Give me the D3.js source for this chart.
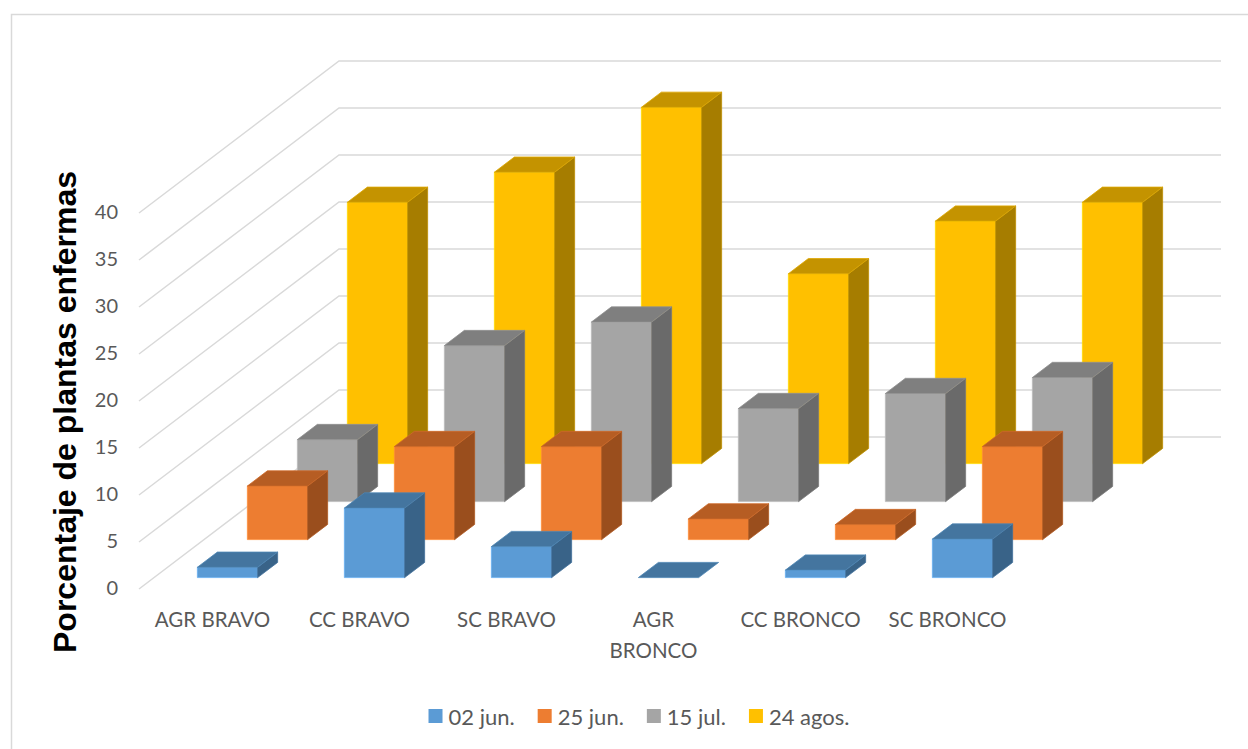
<!DOCTYPE html>
<html>
<head>
<meta charset="utf-8">
<script src="https://cdn.jsdelivr.net/npm/d3@7"></script>
<style>
  html, body { margin: 0; padding: 0; background: #ffffff; }
  svg { display: block; }
</style>
</head>
<body>
<svg id="chart" width="1248" height="749"></svg>
<script>
// Categories along the front edge and their printed label lines
const categories = ["AGR BRAVO", "CC BRAVO", "SC BRAVO", "AGR BRONCO", "CC BRONCO", "SC BRONCO"];
const categoryLines = [["AGR BRAVO"], ["CC BRAVO"], ["SC BRAVO"], ["AGR", "BRONCO"], ["CC BRONCO"], ["SC BRONCO"]];

// Series (one depth row each, front to back)
const seriesNames = ["02 jun.", "25 jun.", "15 jul.", "24 agos."];
const values02jun  = [1.1, 7.4, 3.3, 0, 0.8, 4.1];
const values25jun  = [5.7, 9.9, 9.9, 2.2, 1.6, 9.9];
const values15jul  = [6.6, 16.6, 19.1, 9.9, 11.5, 13.2];
const values24agos = [27.8, 31.0, 37.9, 20.2, 25.8, 27.8];
const seriesValues = [values02jun, values25jun, values15jul, values24agos];

// Value axis ticks
const yTicks = [0, 5, 10, 15, 20, 25, 30, 35, 40];

// Face colours: front, top, side
const seriesColors = [
  { front: "#5B9BD5", top: "#44759F", side: "#396388" },
  { front: "#ED7D31", top: "#B65D23", side: "#9A4E1D" },
  { front: "#A5A5A5", top: "#7F7F7F", side: "#6A6A6A" },
  { front: "#FFC000", top: "#C49300", side: "#A67D00" }
];

const svg = d3.select("#chart");

// Outer frame
svg.append("rect")
  .attr("x", 11.5).attr("y", 14.5)
  .attr("width", 1250).attr("height", 760)
  .attr("fill", "none").attr("stroke", "#D9D9D9").attr("stroke-width", 1.5);

// 3D projection: x along categories, value up, depth (z) into the page
const x = d3.scaleBand().domain(categories).range([139, 1021]);
const y = d3.scaleLinear().domain([0, 40]).range([589, 213]);
const depthRows = seriesNames.length;
const zx = d3.scaleLinear().domain([0, depthRows]).range([0, 200]);
const zy = d3.scaleLinear().domain([0, depthRows]).range([0, -152]);

const proj = (px, v, z) => [px + zx(z), y(v) + zy(z)];

// Gridlines: left wall diagonal then back wall horizontal
const gridG = svg.append("g");
const xLeft = x.range()[0], xRight = x.range()[1];
gridG.selectAll("polyline")
  .data(yTicks)
  .join("polyline")
  .attr("points", t => [proj(xLeft, t, 0), proj(xLeft, t, depthRows), proj(xRight, t, depthRows)]
    .map(p => p.join(",")).join(" "))
  .attr("fill", "none")
  .attr("stroke", "#D9D9D9")
  .attr("stroke-width", 1.5);

// Value labels
const labelFont = "Lato, 'Open Sans', sans-serif";
svg.append("g")
  .selectAll("text")
  .data(yTicks)
  .join("text")
  .attr("x", 118)
  .attr("y", t => y(t) - 2)
  .attr("text-anchor", "end")
  .attr("dominant-baseline", "central")
  .attr("font-family", labelFont)
  .attr("font-size", 20)
  .attr("fill", "#595959")
  .text(d => d);

// Bars
const barFrac = 0.41;
const depthFrac = 0.4;
const bw = x.bandwidth();
const barW = bw * barFrac;
const barsG = svg.append("g");

const poly = pts => pts.map(p => p.join(",")).join(" ");

for (let r = depthRows - 1; r >= 0; r--) {
  const zf = r + (1 - depthFrac) / 2;
  const zb = zf + depthFrac;
  const col = seriesColors[r];
  const rowG = barsG.append("g").attr("class", "series-" + r);
  const data = categories.map((c, i) => ({ c, v: seriesValues[r][i] }));
  const bar = rowG.selectAll("g").data(data).join("g");
  const x0 = d => x(d.c) + (bw - barW) / 2;
  const x1 = d => x0(d) + barW;

  bar.filter(d => d.v > 0).append("polygon")
    .attr("points", d => poly([proj(x0(d), 0, zf), proj(x1(d), 0, zf), proj(x1(d), d.v, zf), proj(x0(d), d.v, zf)]))
    .attr("fill", col.front)
    .attr("stroke", d3.color(col.front).brighter(0.35))
    .attr("stroke-width", 0.8);

  bar.filter(d => d.v > 0).append("polygon")
    .attr("points", d => poly([proj(x1(d), 0, zf), proj(x1(d), 0, zb), proj(x1(d), d.v, zb), proj(x1(d), d.v, zf)]))
    .attr("fill", col.side)
    .attr("stroke", d3.color(col.side).brighter(0.35))
    .attr("stroke-width", 0.8);

  bar.append("polygon")
    .attr("points", d => poly([proj(x0(d), d.v, zf), proj(x1(d), d.v, zf), proj(x1(d), d.v, zb), proj(x0(d), d.v, zb)]))
    .attr("fill", col.top)
    .attr("stroke", d3.color(col.top).brighter(0.35))
    .attr("stroke-width", 0.8);
}

// Category labels along the front edge
const catG = svg.append("g");
categories.forEach((c, i) => {
  const t = catG.append("text")
    .attr("x", x(c) + bw / 2)
    .attr("y", 619)
    .attr("text-anchor", "middle")
    .attr("dominant-baseline", "central")
    .attr("font-family", labelFont)
    .attr("font-size", 20.5)
    .attr("fill", "#595959");
  categoryLines[i].forEach((line, j) => {
    t.append("tspan").attr("x", x(c) + bw / 2).attr("dy", j === 0 ? 0 : 31).text(line);
  });
});

// Axis title
svg.append("text")
  .attr("transform", "translate(65,412) rotate(-90)")
  .attr("text-anchor", "middle")
  .attr("dominant-baseline", "central")
  .attr("font-family", "'Liberation Sans', Arial, sans-serif")
  .attr("font-weight", "bold")
  .attr("font-size", 32)
  .attr("fill", "#000000")
  .text("Porcentaje de plantas enfermas");

// Legend
const legendG = svg.append("g");
const items = legendG.selectAll("g").data(seriesNames).join("g");
items.append("rect")
  .attr("width", 14).attr("height", 14)
  .attr("y", 709)
  .attr("fill", (d, i) => seriesColors[i].front);
items.append("text")
  .attr("x", 20)
  .attr("y", 716)
  .attr("dominant-baseline", "central")
  .attr("font-family", labelFont)
  .attr("font-size", 22)
  .attr("fill", "#595959")
  .text(d => d);
const widths = [];
items.each(function () {
  widths.push(20 + this.querySelector("text").getComputedTextLength());
});
const gap = 23;
const total = d3.sum(widths) + gap * (widths.length - 1);
let start = 639 - total / 2;
items.attr("transform", (d, i) => {
  const tx = start;
  start += widths[i] + gap;
  return `translate(${tx},0)`;
});
</script>
</body>
</html>
